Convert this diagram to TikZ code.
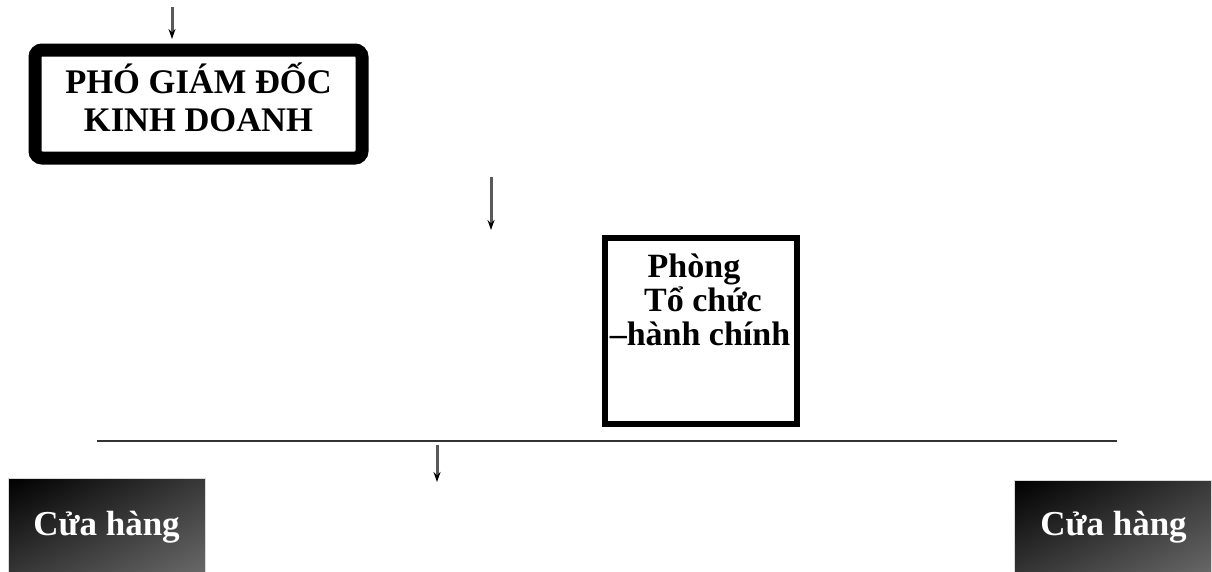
\documentclass[tikz,border=0pt]{standalone}
\usepackage{fontspec}
\setmainfont{Liberation Serif}
\usetikzlibrary{arrows.meta,shadings}
\tikzset{
  conn/.style={draw=black!65, line width=3pt, -{Stealth[length=10pt,width=7pt,black]}},
  rule/.style={draw=black!80, line width=2.5pt},
  bossbox/.style={draw=black, line width=13pt, rounded corners=7pt, fill=white, minimum width=327pt, minimum height=108pt, inner sep=0pt},
  deptbox/.style={draw=black, line width=6pt, fill=white, minimum width=192pt, minimum height=186pt, inner sep=0pt},
  shopbox/.style={draw=black!15, line width=0.8pt, upper left=black, lower right=black!58, upper right=black!78, lower left=black!78, minimum width=197pt, minimum height=100pt, inner sep=0pt},
  bigtxt/.style={font=\fontsize{34.5}{38}\selectfont\bfseries, align=center, inner sep=0pt},
  midtxt/.style={font=\fontsize{34}{34}\selectfont\bfseries, align=center, inner sep=0pt},
  shoptxt/.style={font=\fontsize{35}{38}\selectfont\bfseries, text=white, inner sep=0pt}
}
\begin{document}
\begin{tikzpicture}[x=1pt,y=-1pt]
\useasboundingbox (0,0) rectangle (1212,571);
% boss box
\node[bossbox] (pgd) at (198.5,104) {};
\node[bigtxt] (pgdtxt) at (198.5,97) {PHÓ GIÁM ĐỐC\\KINH DOANH};
% department box
\node[deptbox] (phong) at (701,331) {};
\node[midtxt] (phongtxt) at (700,300) {Phòng\hspace*{12pt}\\\hspace*{6pt}Tổ chức\\–hành chính};
% shops
\node[shopbox] (ch1) at (106.5,528) {};
\node[shoptxt] (ch1txt) at (106.5,527.5) {Cửa hàng};
\node[shopbox] (ch2) at (1113,530) {};
\node[shoptxt] (ch2txt) at (1113.5,527.5) {Cửa hàng};
% horizontal rule
\coordinate (hl) at (97,441);
\coordinate (hr) at (1117,441);
\draw[rule] (hl) -- (hr);
% arrows
\coordinate (a1s) at (172,7);
\coordinate (a1e) at (172,39);
\coordinate (a2s) at (491,177);
\coordinate (a2e) at (491,230);
\coordinate (a3s) at (437,445);
\coordinate (a3e) at (437,482);
\draw[conn] (a1s) -- (a1e);
\draw[conn] (a2s) -- (a2e);
\draw[conn] (a3s) -- (a3e);
\end{tikzpicture}
\end{document}
